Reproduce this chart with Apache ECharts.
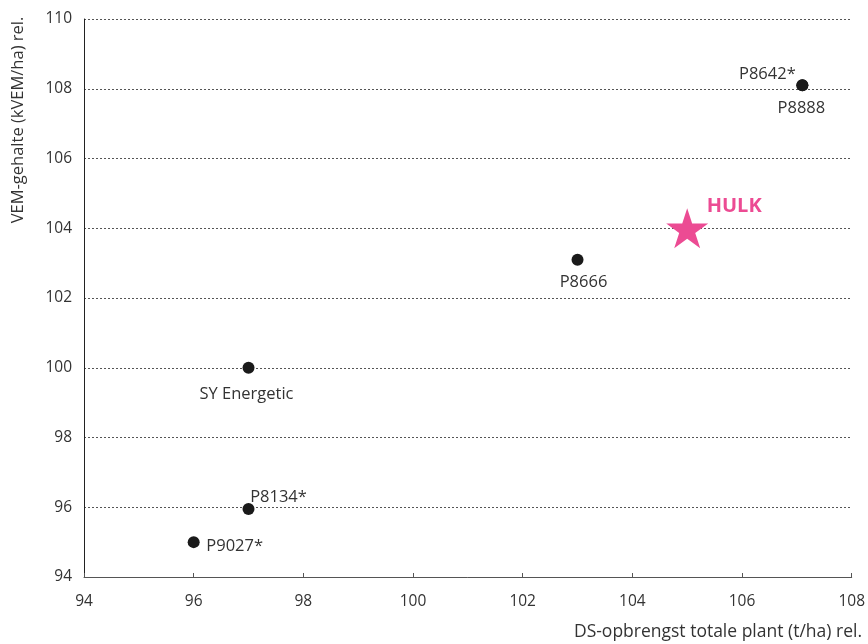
<!DOCTYPE html>
<html>
<head>
<meta charset="utf-8">
<script src="https://cdn.jsdelivr.net/npm/echarts@6/dist/echarts.min.js"></script>
<style>html,body{margin:0;padding:0;background:#fff}#c{width:868px;height:644px}</style>
</head>
<body>
<div id="c"></div>
<script>
// Data
const varieties = ['P8642*', 'P8888', 'P8666', 'SY Energetic', 'P8134*', 'P9027*'];
const dsYield = [107.1, 107.1, 103.0, 97.0, 97.0, 96.0];
const vemContent = [108.1, 108.1, 103.1, 100.0, 95.95, 95.0];
const highlightName = 'HULK';
const highlightDs = [105.0];
const highlightVem = [104.0];
const xTicks = [94, 96, 98, 100, 102, 104, 106, 108];
const yTicks = [94, 96, 98, 100, 102, 104, 106, 108, 110];

// label placement (style only)
const labelOffsets = {
  'P8642*': [-35, -11],
  'P8888': [-1, 23],
  'P8666': [6, 23],
  'SY Energetic': [-2, 27],
  'P8134*': [30, -12],
  'P9027*': [41, 4]
};

const FONT = 'Open Sans';
const pink = '#ec4b93';

const chart = echarts.init(document.getElementById('c'));
chart.setOption({
  animation: false,
  grid: { left: 84, right: 15, top: 19, bottom: 67 },
  xAxis: {
    type: 'value',
    min: xTicks[0], max: xTicks[xTicks.length - 1], interval: 2,
    axisLine: { show: true, lineStyle: { color: '#555', width: 1 } },
    axisTick: { show: true, inside: true, length: 4, lineStyle: { color: '#555' } },
    axisLabel: { color: '#333', fontSize: 15.5, fontFamily: FONT, margin: 17 },
    splitLine: { show: false }
  },
  yAxis: {
    type: 'value',
    min: yTicks[0], max: yTicks[yTicks.length - 1], interval: 2,
    axisLine: { show: true, lineStyle: { color: '#222', width: 1 } },
    axisTick: { show: false },
    axisLabel: { color: '#333', fontSize: 15.5, fontFamily: FONT, margin: 12 },
    splitLine: { show: true, lineStyle: { color: '#555', type: [2, 2], width: 1 } }
  },
  graphic: [
    { type: 'text', x: 18, y: 120, rotation: Math.PI / 2,
      style: { text: 'VEM-gehalte (kVEM/ha) rel.', fill: '#333', font: '16.5px "' + FONT + '"', align: 'center', verticalAlign: 'middle' } },
    { type: 'text', x: 862, y: 632,
      style: { text: 'DS-opbrengst totale plant (t/ha) rel.', fill: '#333', font: '17.5px "' + FONT + '"', align: 'right', verticalAlign: 'middle' } }
  ],
  series: [
    {
      type: 'scatter',
      symbol: 'circle',
      symbolSize: 12,
      itemStyle: { color: '#1a1a1a', opacity: 1 },
      data: varieties.map((n, i) => ({
        name: n,
        value: [dsYield[i], vemContent[i]],
        label: {
          show: true, position: 'inside', formatter: n,
          offset: labelOffsets[n], color: '#333', fontSize: 16.5, fontFamily: FONT
        }
      }))
    },
    {
      type: 'scatter',
      symbol: 'path://M50,0 L61.8,36.2 L100,36.2 L69.1,58.8 L80.9,95.1 L50,72.7 L19.1,95.1 L30.9,58.8 L0,36.2 L38.2,36.2 Z',
      symbolSize: [42, 40],
      itemStyle: { color: pink, opacity: 1 },
      data: highlightDs.map((x, i) => ({
        name: highlightName,
        value: [x, highlightVem[i]],
        label: {
          show: true, position: 'inside', formatter: highlightName,
          offset: [47, -22], color: pink, fontSize: 20, fontWeight: 'bold', fontFamily: FONT
        }
      }))
    }
  ]
});
</script>
</body>
</html>
